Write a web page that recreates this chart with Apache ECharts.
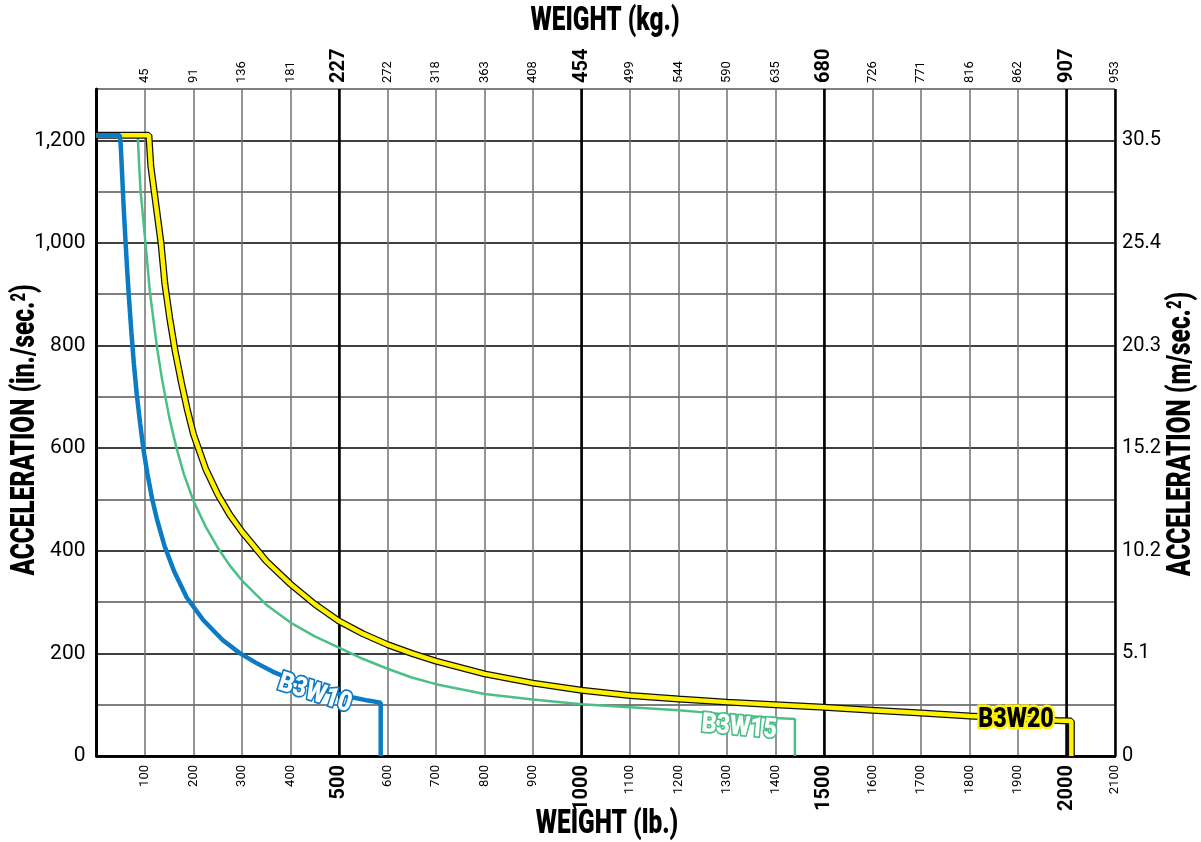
<!DOCTYPE html>
<html>
<head>
<meta charset="utf-8">
<script src="https://cdn.jsdelivr.net/npm/echarts@6/dist/echarts.min.js"></script>
<style>
  html, body { margin: 0; padding: 0; background: #fff; }
  #main { width: 1201px; height: 842px; }
</style>
</head>
<body>
<div id="main"></div>
<script>
var FONT = "Roboto, 'Liberation Sans', sans-serif";

// weight (lb), acceleration (in/sec^2)
var b3w10 = [[0, 1210], [48, 1210], [50, 1190], [53, 1130], [56, 1070], [60, 1000], [64, 935], [68, 878],
  [72, 825], [77, 765], [83, 705], [90, 648], [97, 596], [105, 550], [115, 500], [125, 460], [140, 410],
  [160, 360], [186, 309], [220, 265], [260, 226], [296, 200], [330, 181], [364, 164], [400, 150],
  [450, 134], [500, 121], [529, 114], [560, 108], [586, 104], [586, 0]];
var b3w15 = [[0, 1210], [85, 1210], [88, 1150], [91, 1100], [96, 1050], [101, 1000], [110, 905],
  [117, 853], [125, 795], [135, 735], [150, 660], [165, 600], [180, 550], [200, 497], [225, 447],
  [250, 406], [275, 371], [300, 342], [350, 295], [400, 260], [450, 233], [500, 211], [550, 189],
  [600, 170], [650, 153], [700, 140], [800, 121], [900, 110], [1000, 101], [1100, 95], [1200, 89],
  [1240, 86], [1300, 81], [1400, 74], [1440, 72], [1440, 0]];
var b3w20 = [[0, 1210], [108, 1210], [112, 1150], [119, 1100], [126, 1050], [133, 1000], [141, 920],
  [151, 853], [162, 790], [175, 728], [188, 672], [200, 627], [225, 560], [250, 510], [275, 470],
  [300, 437], [350, 380], [400, 335], [450, 296], [500, 263], [550, 238], [600, 217], [650, 200],
  [700, 185], [800, 160], [900, 142], [1000, 128], [1100, 118], [1200, 111], [1300, 105], [1400, 100],
  [1500, 95], [1600, 89], [1700, 84], [1800, 78], [1900, 73], [1980, 69], [2010, 68], [2010, 0]];

// tick labels
var kgLabels = ['', '45', '91', '136', '181', '227', '272', '318', '363', '408', '454', '499', '544',
  '590', '635', '680', '726', '771', '816', '862', '907', '953'];
var inLabels = ['0', '200', '400', '600', '800', '1,000', '1,200'];
var msLabels = ['0', '5.1', '10.2', '15.2', '20.3', '25.4', '30.5'];

// curve name tags: name, lb, accel, rotate (deg), text colour, outline colour
var tags = [
  ['B3W10', 450, 121, -18, '#fff', '#0b7cc3'],
  ['B3W15', 1325, 55, -5, '#fff', '#4bbf87'],
  ['B3W20', 1896, 70, 0, '#000', '#fff200']
];

var G = { left: 96.5, right: 86, top: 89, bottom: 86 };

var chart = echarts.init(document.getElementById('main'));

function axisTitle(text, x, y, rot) {
  return {
    type: 'text', x: x, y: y, rotation: rot, scaleX: 0.74, z: 100, silent: true,
    style: {
      text: text, fontFamily: FONT, fontWeight: 900, fontSize: 33, fill: '#000',
      align: 'center', verticalAlign: 'middle',
      rich: { s: { fontFamily: FONT, fontWeight: 900, fontSize: 20, fill: '#000', verticalAlign: 'top' } }
    }
  };
}

function tickRich() {
  return {
    n: { fontFamily: FONT, fontSize: 13, color: '#000' },
    b: { fontFamily: FONT, fontSize: 20, fontWeight: 'bold', color: '#000' }
  };
}

var lineBase = { type: 'line', showSymbol: false, symbol: 'none', xAxisIndex: 0, yAxisIndex: 0, silent: true };

var option = {
  animation: false,
  backgroundColor: '#fff',
  textStyle: { fontFamily: FONT },
  grid: { left: G.left, right: G.right, top: G.top, bottom: G.bottom, containLabel: false, outerBoundsMode: 'none' },
  xAxis: [{
    type: 'value', position: 'bottom', min: 0, max: 2100, interval: 100,
    axisLine: { show: true, lineStyle: { color: '#000', width: 2.5 } },
    axisTick: { show: false },
    axisLabel: {
      rotate: 90, margin: 9, color: '#000',
      formatter: function (v) {
        if (v === 0) return '';
        return (v % 500 === 0 ? '{b|' : '{n|') + v + '}';
      },
      rich: tickRich()
    },
    splitLine: { show: true, lineStyle: { color: ['#000', '#707070', '#707070', '#707070', '#707070'], width: 1.5 } }
  }, {
    type: 'value', position: 'top', min: 0, max: 2100, interval: 100,
    axisLine: { show: true, lineStyle: { color: '#000', width: 2.5 } },
    axisTick: { show: false },
    axisLabel: {
      rotate: 90, margin: 6, color: '#000',
      formatter: function (v) {
        var s = kgLabels[Math.round(v / 100)];
        if (!s) return '';
        return (v % 500 === 0 ? '{b|' : '{n|') + s + '}';
      },
      rich: tickRich()
    },
    splitLine: { show: false }
  }, {
    // heavier grid lines every 500 lb
    type: 'value', position: 'bottom', min: 0, max: 2100, interval: 500,
    axisLine: { show: false }, axisTick: { show: false }, axisLabel: { show: false },
    splitLine: { show: true, lineStyle: { color: '#000', width: 2.5 } }
  }],
  yAxis: [{
    type: 'value', position: 'left', min: 0, max: 1300, interval: 100,
    axisLine: { show: true, lineStyle: { color: '#000', width: 2.5 } },
    axisTick: { show: false },
    axisLabel: {
      margin: 11, fontFamily: FONT, fontSize: 21, color: '#000',
      formatter: function (v) { return v % 200 === 0 ? (inLabels[v / 200] || '') : ''; }
    },
    splitLine: { show: true, lineStyle: { color: ['#000', '#555'], width: 1.5 } }
  }, {
    type: 'value', position: 'right', min: 0, max: 1300, interval: 100,
    axisLine: { show: true, lineStyle: { color: '#000', width: 2.5 } },
    axisTick: { show: false },
    axisLabel: {
      margin: 7, fontFamily: FONT, fontSize: 20, color: '#000',
      formatter: function (v) { return v % 200 === 0 ? (msLabels[v / 200] || '') : ''; }
    },
    splitLine: { show: false }
  }],
  graphic: [
    axisTitle('WEIGHT (kg.)', 605, 22, 0),
    axisTitle('WEIGHT (lb.)', 607, 825, 0),
    axisTitle('ACCELERATION (in./sec.{s|2})', 26, 430, Math.PI / 2),
    axisTitle('ACCELERATION (m/sec.{s|2})', 1182, 434, Math.PI / 2)
  ],
  series: [
    Object.assign({}, lineBase, {
      name: 'B3W15', data: b3w15, z: 3,
      lineStyle: { color: '#4bbf87', width: 2.5 }
    }),
    Object.assign({}, lineBase, {
      name: 'B3W20 edge', data: b3w20, z: 4,
      lineStyle: { color: '#111', width: 7 }
    }),
    Object.assign({}, lineBase, {
      name: 'B3W20', data: b3w20, z: 5,
      lineStyle: { color: '#fff200', width: 4.5 }
    }),
    Object.assign({}, lineBase, {
      name: 'B3W10', data: b3w10, z: 6,
      lineStyle: { color: '#0b7cc3', width: 4.5 }
    })
  ]
};

chart.setOption(option);

// curve tags placed at their data coordinates
var tagEls = tags.map(function (t, i) {
  var p = chart.convertToPixel({ xAxisIndex: 0, yAxisIndex: 0 }, [t[1], t[2]]);
  return {
    type: 'text', id: 'tag' + i, x: p[0], y: p[1], rotation: t[3] * Math.PI / 180, scaleX: 0.86,
    z: 120, silent: true,
    style: {
      text: t[0], fontFamily: FONT, fontWeight: 900, fontSize: 27,
      fill: t[4], stroke: t[5], lineWidth: t[4] === '#000' ? 5 : 3.5,
      align: 'center', verticalAlign: 'middle'
    }
  };
});
chart.setOption({ graphic: option.graphic.concat(tagEls) });
</script>
</body>
</html>
